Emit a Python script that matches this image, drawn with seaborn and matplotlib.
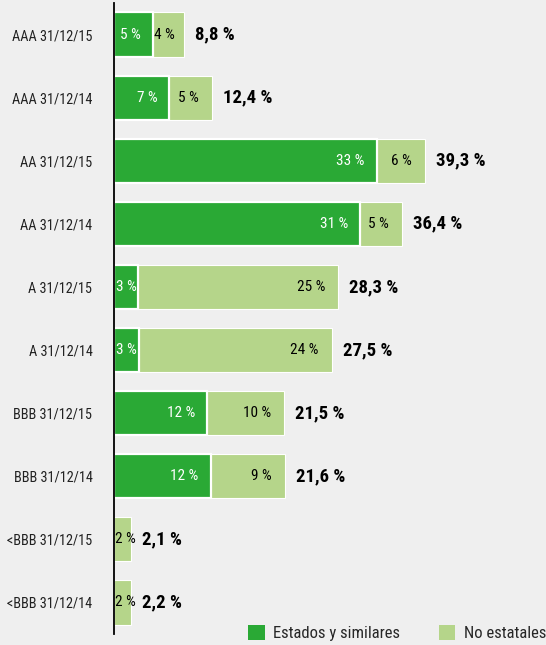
import matplotlib
matplotlib.use("Agg")
import matplotlib.pyplot as plt
import seaborn as sns
import pandas as pd
from matplotlib import font_manager as fm
from matplotlib.patches import Patch

categories = ["AAA 31/12/15", "AAA 31/12/14", "AA 31/12/15", "AA 31/12/14",
              "A 31/12/15", "A 31/12/14", "BBB 31/12/15", "BBB 31/12/14",
              "<BBB 31/12/15", "<BBB 31/12/14"]
estados = [4.9, 7.0, 33.2, 31.1, 3.0, 3.2, 11.8, 12.2, 0.0, 0.0]
no_estatales = [3.9, 5.4, 6.1, 5.3, 25.3, 24.3, 9.7, 9.4, 2.1, 2.2]
estados_labels = ["5 %", "7 %", "33 %", "31 %", "3 %", "3 %", "12 %", "12 %", "", ""]
no_est_labels = ["4 %", "5 %", "6 %", "5 %", "25 %", "24 %", "10 %", "9 %", "2 %", "2 %"]
series_names = ["Estados y similares", "No estatales"]

DARK = "#2aa935"
LIGHT = "#b5d58a"
BG = "#efefef"

names = {f.name for f in fm.fontManager.ttflist}
family, stretch = "DejaVu Sans", "condensed"
for cand in ["Roboto Condensed", "Liberation Sans Narrow", "Open Sans Condensed", "Noto Sans Condensed"]:
    if cand in names:
        family, stretch = cand, "normal"
        break

sns.set_theme(style="white")
plt.rcParams["font.family"] = [family]
plt.rcParams["font.stretch"] = stretch

df = pd.DataFrame({"cat": categories, "estados": estados, "no_est": no_estatales})
df["total"] = df["estados"] + df["no_est"]

fig = plt.figure(figsize=(5.46, 6.45), dpi=100, facecolor=BG)
ax = fig.add_axes([114 / 546, 11 / 645, 1 - 114 / 546, 631 / 645])
ax.set_facecolor(BG)

sns.barplot(data=df, x="total", y="cat", orient="h", color=LIGHT, saturation=1,
            width=0.7, edgecolor="white", linewidth=0.8, ax=ax, zorder=2)
sns.barplot(data=df[df["estados"] > 0], x="estados", y="cat", orient="h", color=DARK,
            saturation=1, width=0.7, edgecolor="white", linewidth=1.6, ax=ax, zorder=3)

ax.set_xlim(0, 54.6)
ax.set_ylim(9.5, -0.5)
ax.set_xlabel("")
ax.set_ylabel("")
ax.set_xticks([])
ax.tick_params(axis="y", length=0, pad=15.5, labelsize=10.3, labelcolor="#222222")
for lab in ax.get_yticklabels():
    lab.set_fontstretch(stretch)
for s in ["top", "right", "bottom"]:
    ax.spines[s].set_visible(False)
ax.spines["left"].set_color("black")
ax.spines["left"].set_linewidth(1.3)
ax.spines["left"].set_zorder(5)

for i, row in df.iterrows():
    e, n, t = row["estados"], row["no_est"], row["total"]
    if estados_labels[i]:
        if e < 4:
            ax.annotate(estados_labels[i], (0, i), xytext=(2, 0), textcoords="offset pixels",
                        ha="left", va="center", color="white", fontsize=11, zorder=6)
        else:
            ax.annotate(estados_labels[i], (e, i), xytext=(-12, 0), textcoords="offset pixels",
                        ha="right", va="center", color="white", fontsize=11, zorder=6)
    if n < 4:
        ax.annotate(no_est_labels[i], (e, i), xytext=(1, 0), textcoords="offset pixels",
                    ha="left", va="center", color="black", fontsize=11, zorder=6)
    else:
        ax.annotate(no_est_labels[i], (t, i), xytext=(-13, 0), textcoords="offset pixels",
                    ha="right", va="center", color="black", fontsize=11, zorder=6)
    tot = f"{t:.1f}".replace(".", ",") + " %"
    ax.annotate(tot, (t, i), xytext=(11, 0), textcoords="offset pixels",
                ha="left", va="center", color="black", fontsize=13.5, fontweight="bold", zorder=6)

handles = [Patch(facecolor=DARK, edgecolor="none"), Patch(facecolor=LIGHT, edgecolor="none")]
leg = fig.legend(handles, series_names, loc="lower right", bbox_to_anchor=(1.012, -0.004),
                 ncol=2, frameon=False, fontsize=12, handlelength=1.0, handleheight=1.0,
                 columnspacing=2.3, handletextpad=0.5, borderaxespad=0.0)

fig.savefig("out.png", dpi=100, facecolor=BG)
